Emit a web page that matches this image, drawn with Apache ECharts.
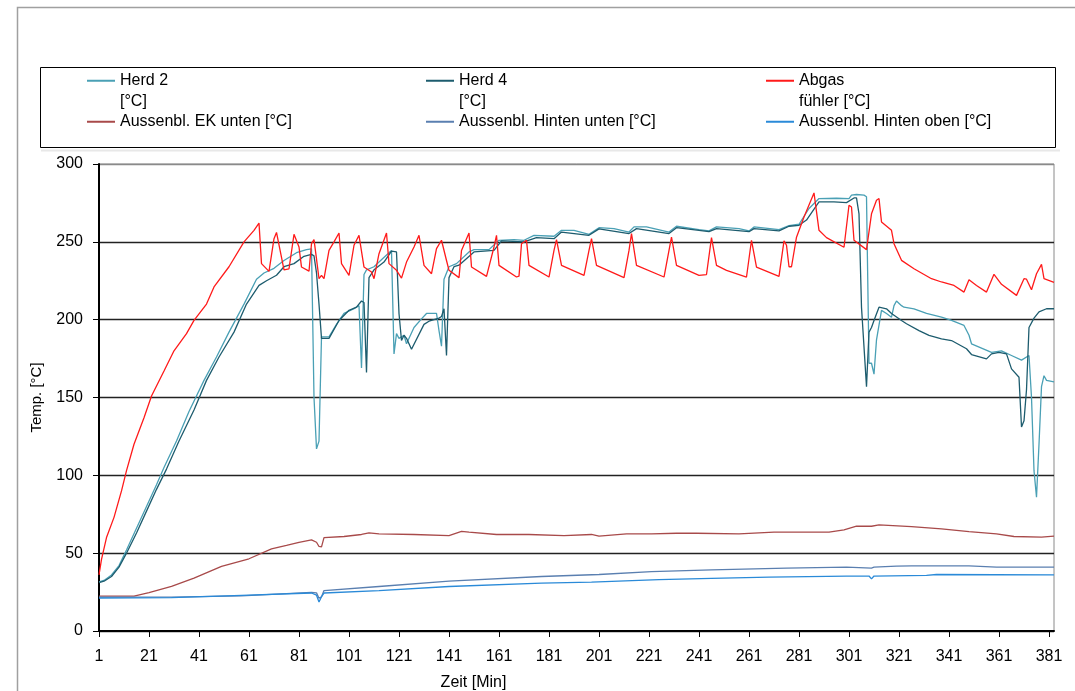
<!DOCTYPE html>
<html>
<head>
<meta charset="utf-8">
<title>Temp</title>
<script src="https://cdn.jsdelivr.net/npm/echarts@6/dist/echarts.min.js"></script>
<style>
  html, body { margin: 0; padding: 0; background: #fff; }
  #chart { width: 1075px; height: 691px; }
</style>
</head>
<body>
<div id="chart"></div>
<script>
// x tick labels (minutes) and y range
const xTicks = [1, 21, 41, 61, 81, 101, 121, 141, 161, 181, 201, 221, 241, 261, 281, 301, 321, 341, 361, 381]
const yTicks = [0, 50, 100, 150, 200, 250, 300]

// [minute, value]
const herd2 = [[1,31.5],[3,32.5],[6,36],[9,42],[12,52],[16,66],[20,80],[24,94],[27,105],[32,122],[37,141],[43,161],[48,176],[53,192],[59,210],[64,226],[67,230],[71,233],[75,238],[80,243],[84,245],[86,245.5],[87,150],[88,117],[89,122],[90,189],[93,189],[96,197],[99,204],[103,207],[105,209],[106,169],[107,229],[108,232],[111,234],[113,237],[117,243],[118,244.5],[119,178],[120,191],[121,188],[123,190],[124,184.5],[127,195],[130,200.5],[132,204],[136,204],[137,193],[138,183],[139,226],[141,234],[144,236],[149,243.5],[151,245],[157,245],[161,251],[167,251.4],[171,251],[175,254.2],[183,253.6],[186,257.4],[191,257.4],[197,254.8],[201,259.1],[207,258.5],[213,256.3],[215,259.6],[220,259.6],[229,256.3],[232,260],[241,257.8],[245,257],[248,259.6],[257,258.5],[261,257],[263,259.6],[273,257.8],[277,260.4],[281,261.3],[285,271.4],[289,277.8],[296,278],[301,277.8],[302,280],[304,280.4],[307,280],[308,279],[309,172],[310,172],[311,165],[312,187],[314,206],[316,204],[318,201.6],[319,209],[320,212],[322,209],[323,208],[327,207],[332,204],[338,201.6],[342,199.5],[347,196.3],[349,190],[350,184.5],[358,179],[362,180],[366,177],[370,174],[373,177],[374,150],[375,103],[376,86],[377,120],[378,157],[379,164],[380,161],[383,160]]
const herd4 = [[1,31],[3,32],[6,35],[9,41],[12,50],[16,63],[20,77],[24,91],[28,104],[33,122],[39,142],[44,161],[49,176],[55,192],[60,210],[65,222],[68,225],[72,228.5],[75,234],[79,236],[83,240.7],[86,242],[87,241],[88,230],[89,210],[90,188],[93,188],[97,199.5],[101,206],[104,208],[106,212],[107,211],[108,166],[109,227],[111,232],[115,237],[118,244],[120,243.5],[121,204],[122,186.6],[123,190],[124,188],[126,181],[131,197],[133,199],[137,201],[138,202],[139,207],[140,177],[141,227],[143,234],[145,235],[151,243.5],[159,244.5],[162,250.6],[171,250],[176,252.7],[183,252],[186,256.3],[197,254.2],[201,258.3],[213,255.3],[216,258.5],[229,255.3],[232,259.1],[241,257.4],[245,256.5],[248,258.5],[261,256.5],[263,258.5],[273,257],[277,260],[281,260.6],[284,264],[289,275.7],[295,275.7],[300,275.2],[303,278.2],[304,278.3],[305,268],[306,208],[308,157],[309,192],[310,195],[311,199.5],[313,208],[316,207],[318,204],[322,199.5],[324,197.4],[329,193],[333,189.9],[338,187.7],[342,186.6],[348,181.3],[350,177.6],[356,174.8],[358,178],[361,179],[364,178],[366,168.4],[369,163],[370,131],[371,135],[372,155],[373,195],[375,201],[377,205],[380,207],[383,207]]
const abgas = [[1,36],[2,46],[4,60],[7,73],[10,90],[12,103],[15,120],[19,137],[22,151],[27,167],[31,180],[36,191],[39,199.5],[44,210],[47,221],[53,234],[59,250],[63,257.4],[65,262],[66,236],[69,231],[71,252],[72,256],[74,240],[75,232],[77,232.7],[79,254.8],[81,246.7],[82,233.8],[85,231.2],[86,248.8],[87,251.4],[88,239],[89,226.3],[90,228.5],[91,226.3],[93,244.5],[95,250],[97,255.7],[98,236],[101,228.5],[103,247.8],[105,254.2],[107,233.8],[110,230.6],[111,226.3],[113,242.4],[116,255.7],[117,236],[120,231.7],[122,226.7],[124,237],[127,246.7],[129,254.2],[131,234.9],[134,229.5],[136,245.6],[138,251],[140,238],[141,231.7],[145,227],[146,244.5],[149,255.7],[150,233.8],[156,227.8],[159,246.7],[160,254.2],[161,234.9],[168,227.4],[169,228],[170,248.8],[172,251],[173,234.9],[181,227.4],[183,244.5],[184,251.4],[186,234.9],[195,228.5],[197,244.5],[198,252],[200,234.9],[211,227],[213,244.5],[214,255.3],[216,234.9],[227,227.4],[229,244.5],[230,253.1],[232,234.9],[241,228.5],[244,229],[246,252.7],[248,234.9],[252,231.7],[260,227.4],[262,251],[264,233.8],[273,227.8],[275,250.6],[276,247.8],[277,234],[278,234],[280,253],[283,266],[287,281.4],[289,257.4],[292,252.7],[299,246.5],[301,273.5],[302,272.4],[303,251],[308,245],[310,268],[312,276.7],[313,277.8],[314,262.8],[318,257.4],[319,248.8],[322,238.1],[327,232.7],[334,226.3],[338,224.2],[343,222],[347,217.7],[349,225.7],[352,222],[356,217.7],[359,229.1],[362,222.7],[368,215.6],[371,226.3],[372,226],[374,219.2],[376,229.5],[378,235.5],[379,226.3],[383,224]]
const ekUnten = [[1,22.4],[15,22.4],[21,24.6],[30,28.6],[39,34],[50,41.5],[61,46.4],[70,52.8],[76,55],[81,57],[86,58.5],[88,57],[89,54.3],[90,54],[91,60],[99,60.7],[106,62],[109,63],[113,62.4],[127,62],[141,61.3],[146,64],[149,63.5],[160,62],[173,62],[187,61.3],[198,62],[201,61],[212,62.4],[222,62.4],[232,62.8],[240,62.8],[257,62.4],[271,63.5],[285,63.5],[293,63.5],[299,65],[304,67.3],[310,67.3],[313,68.2],[326,67],[338,65.6],[349,63.9],[360,62.4],[367,60.7],[378,60.3],[383,61]]
const hintenUnten = [[1,21.8],[30,21.8],[58,22.5],[86,24.8],[88,24.5],[89,21],[90,22],[91,26],[113,28.6],[141,32],[178,35],[201,36.3],[222,38.2],[246,39.3],[276,40.4],[300,41],[310,40.4],[311,41],[320,41.7],[326,41.9],[349,41.9],[360,41],[383,41]]
const hintenOben = [[1,21.2],[30,21.5],[58,22.9],[86,24.4],[88,23],[89,18.6],[90,22],[91,24.4],[113,26],[141,28.6],[178,30.8],[198,31.4],[225,33],[246,33.8],[269,34.6],[300,35.3],[309,35.3],[310,33.5],[311,35.3],[332,35.7],[336,36.3],[383,36.1]]

const names = ['Herd 2\n[°C]', 'Herd 4\n[°C]', 'Abgas\nfühler [°C]', 'Aussenbl. EK unten [°C]', 'Aussenbl. Hinten unten [°C]', 'Aussenbl. Hinten oben [°C]']
const colors = ['#4aa0b5', '#1d5c6e', '#ff1a1a', '#a84a4a', '#5a7fb0', '#2a8ad8']
const values = [herd2, herd4, abgas, ekUnten, hintenUnten, hintenOben]

const font = 'Liberation Sans, Arial, sans-serif'
const legendCol = (left, items) => ({
  orient: 'vertical',
  left: left,
  top: 50,
  padding: 0,
  itemGap: 0,
  itemWidth: 28,
  itemHeight: 2,
  icon: 'rect',
  data: items,
  // blank first line keeps the icon level with the first text row
  formatter: n => n.indexOf('\n') >= 0 ? ' \n' + n : n,
  textStyle: { fontFamily: font, fontSize: 16, color: '#000', lineHeight: 20.5 }
})

const chart = echarts.init(document.getElementById('chart'))
chart.setOption({
  animation: false,
  backgroundColor: '#fff',
  color: colors,
  graphic: [
    { type: 'rect', shape: { x: 17.5, y: 7.5, width: 1100, height: 720 }, style: { fill: 'none', stroke: '#a0a0a0', lineWidth: 1.5 }, silent: true, z: -1 },
    { type: 'rect', shape: { x: 40.5, y: 67.5, width: 1015, height: 80 }, style: { fill: 'none', stroke: '#000', lineWidth: 1 }, silent: true },
    { type: 'line', shape: { x1: 41, y1: 150.5, x2: 1060, y2: 150.5 }, style: { stroke: '#e8e8e8', lineWidth: 2 }, silent: true, z: -1 }
  ],
  legend: [
    legendCol(87, [names[0], names[3]]),
    legendCol(426, [names[1], names[4]]),
    legendCol(766, [names[2], names[5]])
  ],
  grid: { left: 99, right: 21, top: 164, bottom: 60, outerBoundsMode: 'none', containLabel: false, show: true, borderColor: '#8a8a8a', borderWidth: 1 },
  xAxis: {
    type: 'value', min: 1, max: 383,
    name: 'Zeit [Min]', nameLocation: 'middle', nameGap: 44,
    nameTextStyle: { fontFamily: font, fontSize: 16, color: '#000', padding: [0, 206, 0, 0] },
    axisLine: { lineStyle: { color: '#000', width: 2 } },
    axisTick: { customValues: xTicks, length: 6, lineStyle: { color: '#000', width: 1 } },
    axisLabel: { customValues: xTicks, margin: 18, fontFamily: font, fontSize: 16, color: '#000' },
    splitLine: { show: false }
  },
  yAxis: {
    type: 'value', min: 0, max: 300, interval: 50,
    name: 'Temp. [°C]', nameLocation: 'middle', nameGap: 55,
    nameTextStyle: { fontFamily: font, fontSize: 15, color: '#000' },
    axisLine: { show: true, lineStyle: { color: '#000', width: 2 } },
    axisTick: { show: true, length: 6, lineStyle: { color: '#000', width: 1 } },
    axisLabel: { margin: 16, fontFamily: font, fontSize: 16, color: '#000', formatter: v => yTicks.indexOf(v) >= 0 ? String(v) : '' },
    splitLine: { lineStyle: { color: ['#222', '#222', '#222', '#222', '#222', '#222', '#8a8a8a'], width: 1.3 } }
  },
  series: names.map((n, i) => ({
    name: n,
    type: 'line',
    symbol: 'none',
    data: values[i],
    lineStyle: { width: 1.3, color: colors[i] },
    emphasis: { disabled: true }
  }))
})
</script>
</body>
</html>
